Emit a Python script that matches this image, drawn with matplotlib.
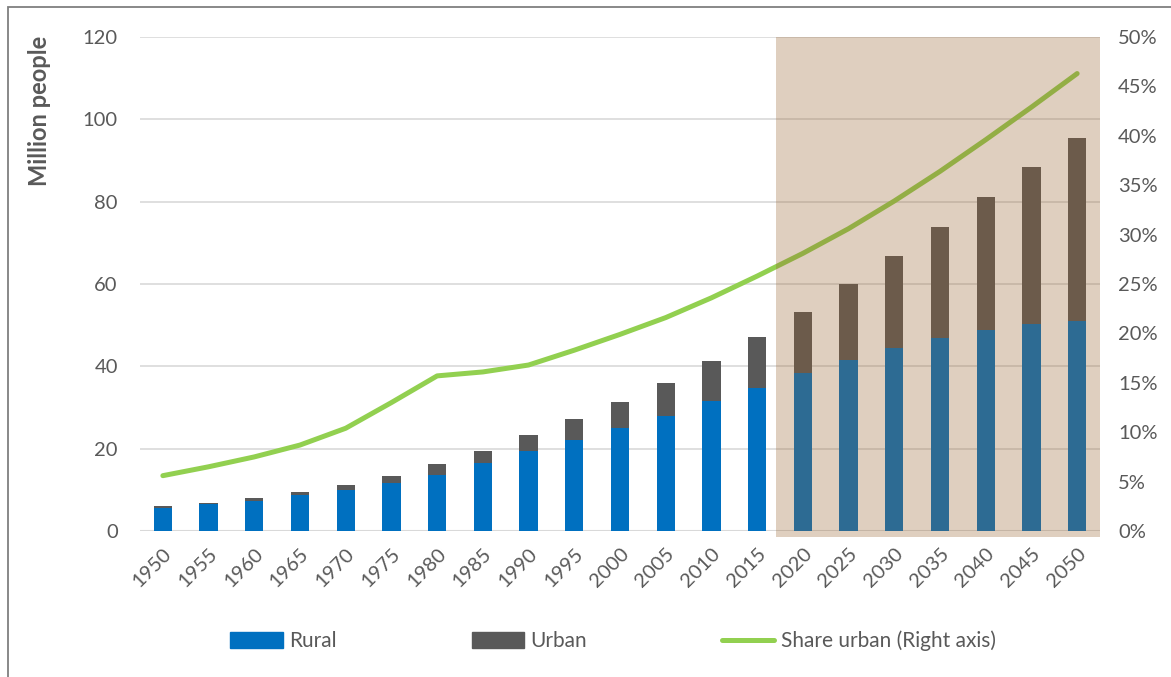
import matplotlib
matplotlib.use("Agg")
import matplotlib.pyplot as plt
from matplotlib.patches import Rectangle
from matplotlib.lines import Line2D
import matplotlib.transforms as mtransforms

plt.rcParams['font.family'] = ['Lato', 'DejaVu Sans']

years = [1950, 1955, 1960, 1965, 1970, 1975, 1980, 1985, 1990, 1995, 2000,
         2005, 2010, 2015, 2020, 2025, 2030, 2035, 2040, 2045, 2050]
rural = [5.7, 6.5, 7.4, 8.7, 10.0, 11.6, 13.5, 16.4, 19.4, 22.2, 25.1,
         28.0, 31.5, 34.8, 38.4, 41.5, 44.5, 46.9, 48.8, 50.3, 51.1]
total = [6.0, 6.9, 8.0, 9.5, 11.2, 13.3, 16.2, 19.5, 23.3, 27.2, 31.4,
         36.0, 41.3, 47.2, 53.2, 59.9, 66.8, 73.9, 81.2, 88.4, 95.5]
urban = [t - r for t, r in zip(total, rural)]
share_urban = [5.6, 6.5, 7.5, 8.7, 10.4, 13.0, 15.7, 16.1, 16.8, 18.3, 19.9,
               21.6, 23.6, 25.8, 28.1, 30.6, 33.4, 36.4, 39.6, 42.9, 46.3]
projection_start = 2020

left_ticks = [0, 20, 40, 60, 80, 100, 120]
right_ticks = [0, 5, 10, 15, 20, 25, 30, 35, 40, 45, 50]

TXT = '#595959'
W, H = 1171, 677
fig = plt.figure(figsize=(W / 100, H / 100), dpi=100)
ax = fig.add_axes([140 / W, 1 - 531 / H, 960 / W, 494 / H])
ax2 = ax.twinx()

x = list(range(len(years)))
ax.bar(x, rural, width=0.4, color='#0070C0', zorder=2, label='Rural')
ax.bar(x, urban, width=0.4, bottom=rural, color='#595959', zorder=2, label='Urban')

ax.set_xlim(-0.5, len(years) - 0.5)
ax.set_ylim(0, 120)
ax.set_yticks(left_ticks)
ax.set_yticklabels([str(v) for v in left_ticks])
ax.grid(axis='y', color='#D9D9D9', linewidth=1.2, zorder=0)
ax.set_axisbelow(True)
for s in ax.spines.values():
    s.set_visible(False)
for s in ax2.spines.values():
    s.set_visible(False)
ax.axhline(0, color='#D9D9D9', linewidth=1.5, zorder=1)

ax.set_xticks(x)
ax.set_xticklabels([str(y) for y in years], rotation=45, ha='right', va='top',
                   rotation_mode='anchor')
ax.tick_params(axis='x', length=0, pad=10, labelsize=14.5, labelcolor=TXT)
ax.tick_params(axis='y', length=0, pad=16, labelsize=14.5, labelcolor=TXT)

ax2.plot(x, share_urban, color='#92D050', linewidth=3.6, solid_capstyle='round',
         zorder=3, label='Share urban (Right axis)')
ax2.set_ylim(0, 50)
ax2.set_yticks(right_ticks)
ax2.set_yticklabels([f'{v}%' for v in right_ticks])
ax2.tick_params(axis='y', length=0, pad=13, labelsize=14.5, labelcolor=TXT)

# shaded projection period overlay
i0 = years.index(projection_start)
trans = mtransforms.blended_transform_factory(ax2.transData, ax2.transAxes)
rect = Rectangle((i0 - 0.58, -0.012), len(years) - i0 + 0.08, 1.012, transform=trans,
                 facecolor='#98622D', alpha=0.3, edgecolor='none', zorder=10,
                 clip_on=False)
ax2.add_patch(rect)

fig.text(40 / W, 1 - 111 / H, 'Million people', rotation=90, ha='center', va='center',
         fontsize=17, fontweight='bold', color=TXT)

handles = [Rectangle((0, 0), 1, 1, color='#0070C0'),
           Rectangle((0, 0), 1, 1, color='#595959'),
           Line2D([0], [0], color='#92D050', linewidth=3.6, solid_capstyle='round')]
labels = ['Rural', 'Urban', 'Share urban (Right axis)']
leg = fig.legend(handles, labels, loc='center', bbox_to_anchor=(613 / W, 1 - 641 / H),
                 ncol=3, frameon=False, fontsize=15, handlelength=2.5,
                 handleheight=0.85, handletextpad=0.3, columnspacing=6.5,
                 labelcolor=TXT)

# outer frame (left and top visible)
fig.patches.append(Rectangle((8 / W, -0.1), 1.2, 1 - 7 / H + 0.1,
                             transform=fig.transFigure, fill=False,
                             edgecolor='#7F7F7F', linewidth=1.3))

fig.savefig('out.png', dpi=100)
